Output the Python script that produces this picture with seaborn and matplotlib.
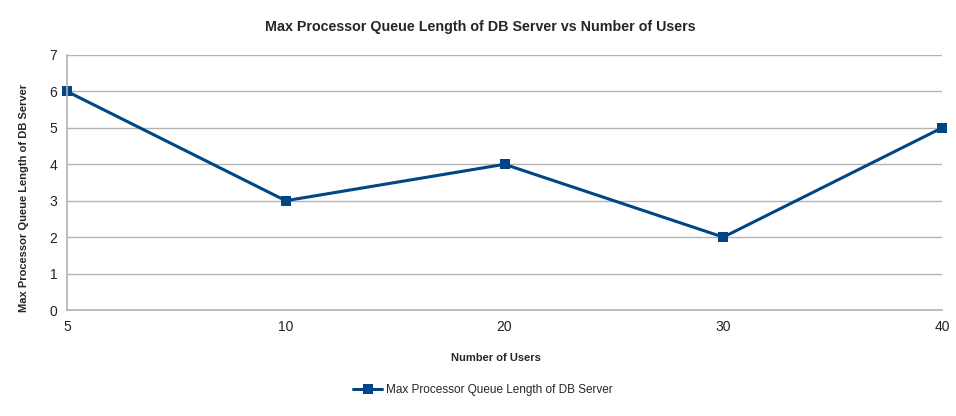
import numpy as np
import pandas as pd
import matplotlib
matplotlib.use("Agg")
import matplotlib.pyplot as plt
import seaborn as sns

# ================= DATA =================
users = ["5", "10", "20", "30", "40"]
queue_len = [6, 3, 4, 2, 5]
series_name = "Max Processor Queue Length of DB Server"

LINE_COLOR = "#004586"
GRID_COLOR = "#b3b3b3"

sns.set_style("white")
plt.rcParams["font.family"] = ["Liberation Sans", "DejaVu Sans"]

df = pd.DataFrame({"pos": np.arange(len(users)), "value": queue_len, "series": series_name})

fig = plt.figure(figsize=(9.56, 4.16), dpi=100)
ax = fig.add_axes([0.0701, 0.2548, 0.9153, 0.613])

sns.lineplot(data=df, x="pos", y="value", hue="series", palette=[LINE_COLOR],
             marker="s", markersize=7, markeredgewidth=0, linewidth=2.2, ax=ax)
for ln in ax.lines:
    ln.set_clip_on(False)

ax.set_xlim(0, len(users) - 1)
ax.set_ylim(0, 7)
ax.set_xticks(df["pos"])
ax.set_xticklabels(users)
ax.set_yticks(range(0, 8))

ax.grid(axis="y", color=GRID_COLOR, linewidth=1)
ax.set_axisbelow(True)
for side in ["top", "right"]:
    ax.spines[side].set_visible(False)
for side in ["left", "bottom"]:
    ax.spines[side].set_color(GRID_COLOR)
    ax.spines[side].set_linewidth(1.2)
ax.tick_params(axis="both", direction="out", length=4, width=1, color=GRID_COLOR,
               labelsize=10, labelcolor="#222222", pad=3)

ax.set_xlabel("Number of Users", fontsize=8, fontweight="bold")
ax.xaxis.set_label_coords(0.49, -0.17)
ax.set_ylabel(series_name, fontsize=8, fontweight="bold")
ax.yaxis.set_label_coords(-0.043, 0.44)
fig.suptitle("Max Processor Queue Length of DB Server vs Number of Users",
             x=0.502, y=0.953, fontsize=10.3, fontweight="bold")

ax.legend(loc="upper center", bbox_to_anchor=(0.475, -0.25), frameon=False,
          fontsize=8.5, handlelength=2.5, handletextpad=0.3)

fig.savefig("out.png", dpi=100)
